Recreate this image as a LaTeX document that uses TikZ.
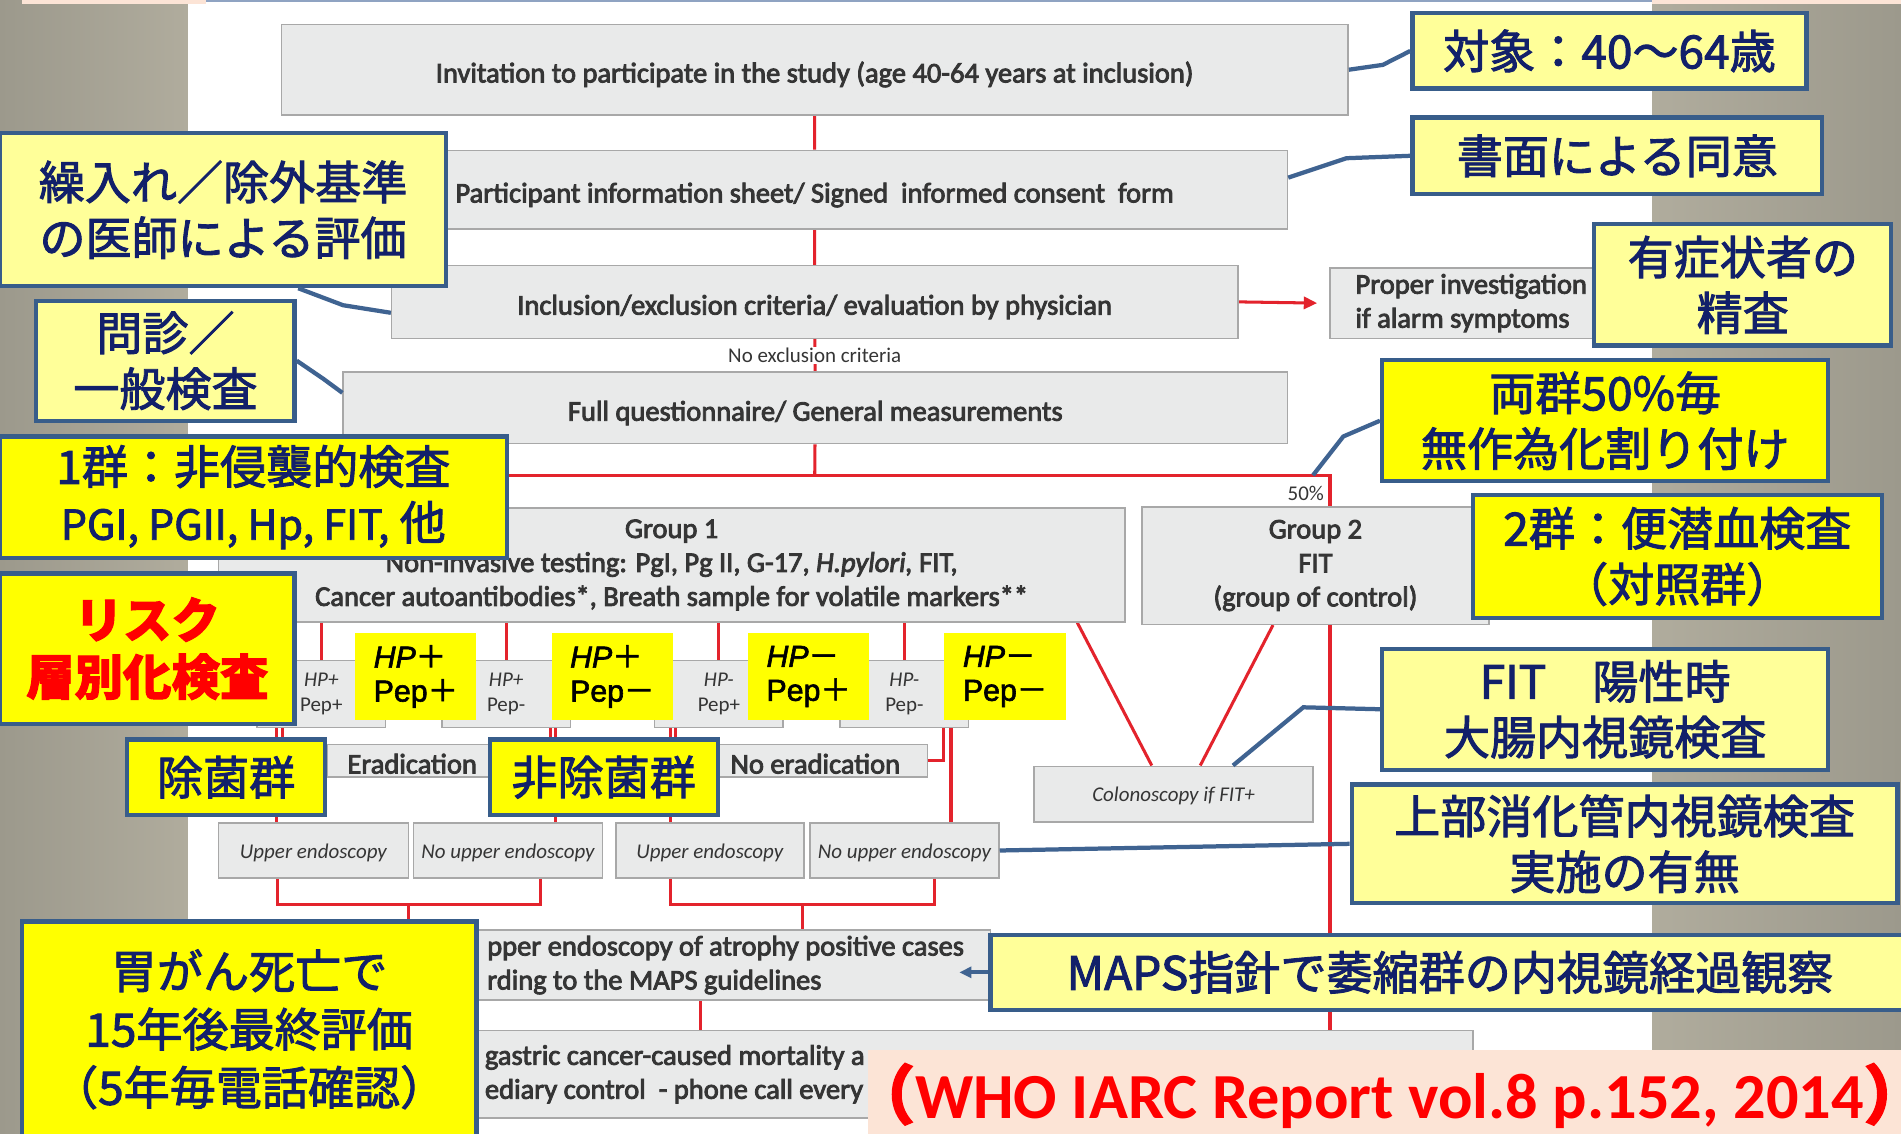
\documentclass[tikz,border=0pt]{standalone}
\usepackage{fontspec}
\setmainfont{Carlito}
\newfontfamily\boxfont{Carlito}[FakeBold=3]
\newfontfamily\cjk{Noto Sans CJK JP}[AutoFakeSlant=0.2, FakeBold=2]
\newfontfamily\hpfont{Liberation Sans}[FakeBold=2]
\usetikzlibrary{arrows.meta}

\definecolor{boxfill}{HTML}{E9EAEA}
\definecolor{boxedge}{HTML}{A8A8A8}
\definecolor{inkgray}{HTML}{353535}
\definecolor{flowred}{HTML}{E3232C}
\definecolor{paleyellow}{HTML}{FFFF99}
\definecolor{hpyellow}{HTML}{FFFF00}
\definecolor{calloutedge}{HTML}{385D8A}
\definecolor{linkblue}{HTML}{3F6391}
\definecolor{navyink}{HTML}{12206A}
\definecolor{citepeach}{HTML}{FCE4D6}
\definecolor{stripdark}{HTML}{9C998C}
\definecolor{striplight}{HTML}{B0AC9D}
\definecolor{topline}{HTML}{8FA3C2}

\pgfdeclarelayer{backdrop}
\pgfdeclarelayer{wires}
\pgfdeclarelayer{links}
\pgfsetlayers{backdrop,wires,main,links}

\tikzstyle{every node}=[font=\boxfont\fontsize{23.5}{28}\selectfont, text=inkgray]

\begin{document}
\begin{tikzpicture}[
            x=1pt, y=-1pt,
            flowbox/.style={draw=boxedge, fill=boxfill, line width=1.2pt, inner sep=0pt},
            oneline/.style={text height=21pt, text depth=0pt},
            smalltext/.style={font=\fontsize{17.3}{21}\selectfont},
            endobox/.style={flowbox, font=\fontsize{17.3}{21}\selectfont\itshape, text height=13pt, text depth=0pt, minimum width=156pt, minimum height=45pt},
            hpbox/.style={flowbox, smalltext, align=center, minimum width=106pt, minimum height=55pt},
            hpmark/.style={fill=hpyellow, inner sep=0pt, minimum width=100pt, minimum height=72pt, align=left, text=black, font=\hpfont\fontsize{25}{28}\selectfont},
            callout/.style={draw=calloutedge, line width=3.5pt, fill=paleyellow, inner sep=0pt, align=center, text=navyink, font=\cjk\fontsize{38}{46}\selectfont},
            loudcallout/.style={callout, fill=hpyellow},
            redline/.style={draw=flowred, line width=2.5pt},
            bluelink/.style={draw=linkblue, line width=3.5pt}]
    \useasboundingbox (0,0) rectangle (1568,935);
    \clip (0,0) rectangle (1568,935);

    % slide background
    \begin{pgfonlayer}{backdrop}
        \fill[white] (0,0) rectangle (1568,935);
        \fill[left color=stripdark, right color=striplight] (0,0) rectangle (155,935);
        \fill[left color=striplight, right color=stripdark] (1363,0) rectangle (1568,935);
        \fill[citepeach] (18,0) rectangle (170,3);
        \fill[citepeach] (1363,0) rectangle (1568,3);
        \fill[topline] (170,0) rectangle (1363,2);
    \end{pgfonlayer}

    % flow chart boxes
    \node[flowbox, oneline, minimum width=880pt, minimum height=75pt] (invite) at (672,57.5) {Invitation to participate in the study (age 40-64 years at inclusion)};
    \node[flowbox, oneline, minimum width=780pt, minimum height=65pt] (consent) at (672,156.5) {Participant information sheet/ Signed\ \ informed consent\ \ form};
    \node[flowbox, oneline, minimum width=698pt, minimum height=60pt] (criteria) at (672,249) {Inclusion/exclusion criteria/ evaluation by physician};
    \node[fill=white, smalltext, inner sep=1pt] (noexcl) at (672,293) {No exclusion criteria};
    \node[flowbox, oneline, minimum width=779pt, minimum height=59pt] (questions) at (672.5,336.5) {Full questionnaire/ General measurements};
    \node[flowbox, minimum width=233pt, minimum height=58pt, align=left] (proper) at (1213.5,250) {Proper investigation\\if alarm symptoms};
    \node[smalltext] (pct) at (1077,407) {50\%};
    \node[flowbox, minimum width=748pt, minimum height=94pt, align=center] (group1) at (554,466) {Group 1\\Non-invasive testing: PgI, Pg II, G-17, \textit{H.pylori,} FIT,\\Cancer autoantibodies*, Breath sample for volatile markers**};
    \node[flowbox, minimum width=286pt, minimum height=97pt, align=center] (group2) at (1085,466.5) {Group 2\\FIT\\(group of control)};

    \node[hpbox] (hp1) at (265,572.5) {\textit{HP+}\\Pep+};
    \node[hpbox] (hp2) at (417.5,572.5) {\textit{HP+}\\Pep-};
    \node[hpbox] (hp3) at (593,572.5) {\textit{HP-}\\Pep+};
    \node[hpbox] (hp4) at (746,572.5) {\textit{HP-}\\Pep-};
    \node[hpmark] (hpyA) at (343,558) {\textit{HP}{\cjk ＋}\\Pep{\cjk ＋}};
    \node[hpmark] (hpyB) at (505,558) {\textit{HP}{\cjk ＋}\\Pep{\cjk －}};
    \node[hpmark] (hpyC) at (667,558) {\textit{HP}{\cjk －}\\Pep{\cjk ＋}};
    \node[hpmark] (hpyD) at (829,558) {\textit{HP}{\cjk －}\\Pep{\cjk －}};

    \node[flowbox, oneline, minimum width=140pt, minimum height=27pt] (erad) at (340,627.5) {Eradication};
    \node[flowbox, oneline, minimum width=185pt, minimum height=27pt] (noerad) at (672.5,627.5) {No eradication};
    \node[endobox, minimum width=157pt] (ue1) at (258.5,701.5) {Upper endoscopy};
    \node[endobox] (ue2) at (419,701.5) {No upper endoscopy};
    \node[endobox, minimum width=155pt] (ue3) at (585.5,701.5) {Upper endoscopy};
    \node[endobox] (ue4) at (746,701.5) {No upper endoscopy};
    \node[endobox, minimum width=230pt, minimum height=46pt] (colon) at (968,655) {Colonoscopy if FIT+};
    \node[flowbox, minimum width=437pt, minimum height=58pt, align=left] (maps) at (598.5,796) {pper endoscopy of atrophy positive cases\\rding to the MAPS guidelines};
    \node[flowbox, minimum width=835pt, minimum height=72pt, text width=795pt, align=flush left] (final) at (797.5,886) {gastric cancer-caused mortality a\\ediary control\ \ - phone call every 5};

    % red flow lines
    \coordinate (split) at (672,392);
    \coordinate (g1drop) at (300,392);
    \coordinate (g2turn) at (1097,392);
    \coordinate (brA) at (337,746);
    \coordinate (brB) at (662,746);
    \begin{pgfonlayer}{wires}
        \draw[redline] (invite) -- (consent) -- (criteria) -- (questions) -- (split);
        \draw[redline] (group1.north -| g1drop) -- (g1drop) -- (g2turn) -- (g2turn |- final.north);
        \draw[redline, -{Triangle[length=11pt,width=10pt]}] (criteria.east) -- ([xshift=-10pt]proper.west);
        \draw[redline] (hp1.north) -- (hp1.north |- group1.south);
        \draw[redline] (hp2.north) -- (hp2.north |- group1.south);
        \draw[redline] (hp3.north) -- (hp3.north |- group1.south);
        \draw[redline] (hp4.north) -- (hp4.north |- group1.south);
        \draw[redline] ([xshift=17pt]hp1.south west) -- ([xshift=17pt]hp1.south west |- ue1.north);
        \draw[redline] ([xshift=22pt]hp1.south west) |- (erad.west);
        \draw[redline] ([xshift=90pt]hp2.south west) |- (erad.east);
        \draw[redline] ([xshift=94pt]hp2.south west) -- ([xshift=94pt]hp2.south west |- ue2.north);
        \draw[redline] ([xshift=14pt]hp3.south west) -- ([xshift=14pt]hp3.south west |- ue3.north);
        \draw[redline] ([xshift=18pt]hp3.south west) |- (noerad.west);
        \draw[redline] ([xshift=86pt]hp4.south west) |- (noerad.east);
        \draw[redline] ([xshift=92pt]hp4.south west) -- ([xshift=92pt]hp4.south west |- ue4.north);
        \draw[redline] ([xshift=-29.5pt]ue1.south) |- (brA) -| ([xshift=27pt]ue2.south);
        \draw[redline] (brA) -- (brA |- maps.north);
        \draw[redline] ([xshift=-32.5pt]ue3.south) |- (brB) -| ([xshift=25pt]ue4.south);
        \draw[redline] (brB) -- (brB |- maps.north);
        \draw[redline] ([xshift=-20.5pt]maps.south) -- ([xshift=-20.5pt]maps.south |- final.north);
        \draw[redline] ([xshift=-40pt]group1.south east) -- ([xshift=-18pt]colon.north);
        \draw[redline] ([xshift=-35pt]group2.south) -- ([xshift=22pt]colon.north);
    \end{pgfonlayer}

    % Japanese notes
    \node[callout, minimum width=325pt, minimum height=62pt] (tgt) at (1327.5,42) {対象：40～64歳};
    \node[callout, minimum width=338pt, minimum height=63pt] (agree) at (1334,128.5) {書面による同意};
    \node[callout, minimum width=245pt, minimum height=100pt] (symptom) at (1437.5,235) {有症状者の\\精査};
    \node[loudcallout, minimum width=368pt, minimum height=100pt] (rand) at (1324,347) {両群50\%毎\\無作為化割り付け};
    \node[loudcallout, minimum width=337pt, minimum height=102pt] (g2note) at (1383.5,459) {2群：便潜血検査\\（対照群）};
    \node[callout, minimum width=368pt, minimum height=100pt] (fitpos) at (1324,585) {FIT　陽性時\\大腸内視鏡検査};
    \node[callout, minimum width=450pt, minimum height=98pt] (upper) at (1340,696) {上部消化管内視鏡検査\\実施の有無};
    \node[callout, minimum width=758pt, minimum height=62pt] (mapsnote) at (1196,802) {MAPS指針で萎縮群の内視鏡経過観察};
    \node[callout, minimum width=368pt, minimum height=126pt] (crit) at (184,173) {繰入れ／除外基準\\の医師による評価};
    \node[callout, minimum width=213pt, minimum height=99pt] (ask) at (136.5,297.5) {問診／\\一般検査};
    \node[loudcallout, minimum width=418pt, minimum height=100pt] (cohort1) at (209,410) {1群：非侵襲的検査\\{\fontsize{34}{46}\selectfont PGI, PGII, Hp, FIT,} 他};
    \node[loudcallout, minimum width=243pt, minimum height=124pt, text=red, font=\cjk\bfseries\fontsize{40}{47}\selectfont] (risk) at (121.5,535) {リスク\\層別化検査};
    \node[loudcallout, minimum width=163pt, minimum height=62pt] (eradnote) at (186.5,641) {除菌群};
    \node[loudcallout, minimum width=188pt, minimum height=62pt] (nonerad) at (498,641) {非除菌群};
    \node[loudcallout, minimum width=375pt, minimum height=178pt, font=\cjk\fontsize{38}{48}\selectfont] (mortal) at (205.5,849) {胃がん死亡で\\15年後最終評価\\（5年毎電話確認）};
    \node[fill=citepeach, inner ysep=0pt, inner xsep=-14pt, minimum width=860pt, minimum height=76pt, text=red, font=\bfseries\fontsize{53}{60}\selectfont] (cite) at (1146,904) {{\cjk\bfseries （}WHO IARC Report vol.8 p.152, 2014{\cjk\bfseries ）}};

    % note connectors
    \begin{pgfonlayer}{links}
        \draw[bluelink] (invite.east) -- ++(28,-4) -- (tgt.west);
        \draw[bluelink] ([yshift=10pt]consent.east) -- ++(48,-16) -- (agree.west);
        \draw[bluelink] ([xshift=62pt]crit.south) -- ++(37,14) -- ([yshift=-9pt]criteria.west);
        \draw[bluelink] (ask.east) -- ++(22,15) -- ([yshift=12.5pt]questions.west);
        \draw[bluelink] ([xshift=-14pt]g2turn) -- ++(25,-32) -- (rand.west);
        \draw[bluelink] ([xshift=49pt]colon.north) -- ++(58,-48) -- (fitpos.west);
        \draw[bluelink] (ue4.east) -- (upper.west);
        \draw[bluelink, -{Triangle[length=10pt,width=9pt]}] (mapsnote.west) -- ++(-24,0);
    \end{pgfonlayer}
\end{tikzpicture}
\end{document}
